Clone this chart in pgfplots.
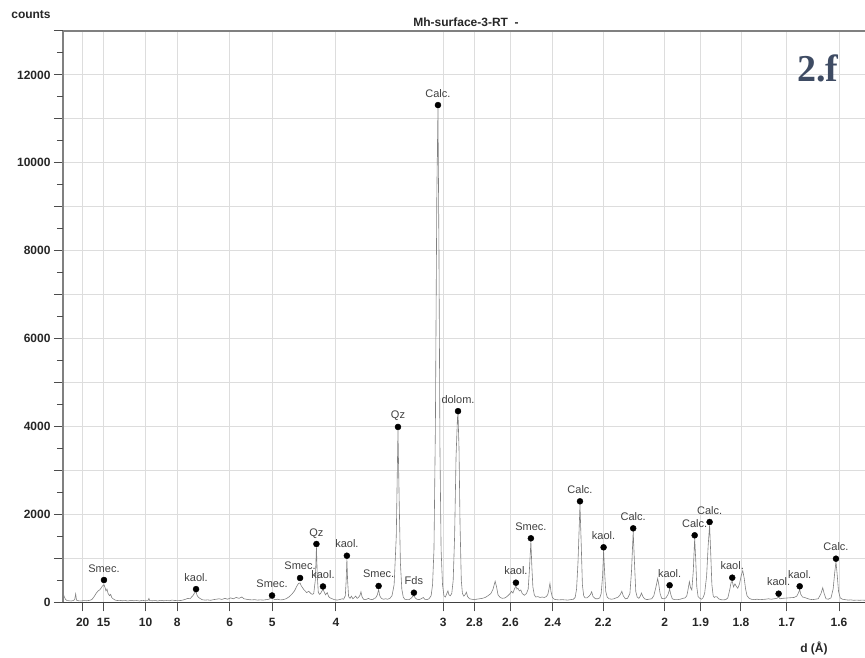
\documentclass[border=0pt]{standalone}
\usepackage{fontspec}
\setmainfont{Liberation Sans}
\newfontfamily\serifbold{Liberation Serif}
\usepackage{pgfplots}
\pgfplotsset{compat=1.18}
\definecolor{gridc}{HTML}{DDDDDD}
\definecolor{slate}{HTML}{3E4B63}
\begin{document}
\begin{tikzpicture}
\path[use as bounding box] (-63pt,-55.7pt) rectangle (802pt,602.3pt);
\begin{axis}[
  at={(0pt,0pt)}, anchor=south west,
  scale only axis, width=802pt, height=571.3pt,
  xmin=3.03, xmax=59.39, ymin=0, ymax=13000,
  axis x line*=bottom, axis y line*=left,
  x axis line style={black!75, line width=1.2pt, -},
  y axis line style={black!50, line width=2pt, -},
  tick align=outside,
  major tick length=9pt, minor tick length=9pt,
  every tick/.style={black!70, line width=1pt},
  xtick={4.4146,5.887,8.8356,11.051,14.752,17.725,22.206,29.755,31.938,34.468,37.443,40.991,45.307,47.836,50.674,53.888,57.564},
  xticklabels={20,15,10,8,6,5,4,3,2.8,2.6,2.4,2.2,2,1.9,1.8,1.7,1.6},
  ytick={0,2000,...,12000},
  minor ytick={1000,3000,...,13000},
  extra y ticks={500,1500,...,12500},
  extra y tick labels={},
  extra y tick style={major tick length=6pt, grid=none},
  scaled y ticks=false,
  /pgf/number format/1000 sep={},
  /pgf/number format/assume math mode=true,
  ticklabel style={font=\bfseries\fontsize{12}{14}\selectfont, black!85},
  xticklabel style={yshift=-3pt},
  grid=both,
  major grid style={gridc, line width=0.9pt},
  minor grid style={gridc, line width=0.9pt},
  clip=false,
]
\addplot[black!50, line width=0.6pt] coordinates {
(3.03,230) (3.08,160) (3.14,110) (3.22,60) (3.32,40) (3.45,35) (3.6,30) (3.75,40) (3.85,60) (3.92,190) (3.98,50) (4.1,35) (4.3,30) (4.5,40) (4.7,35) (4.9,45)
(5.05,60) (5.2,120) (5.35,200) (5.5,260) (5.6,280) (5.7,320) (5.8,370) (5.91,400) (5.98,340) (6.05,260) (6.12,300) (6.2,200) (6.3,150) (6.38,180) (6.45,110) (6.55,80) (6.7,50) (6.85,40)
(7.0,45) (7.2,35) (7.4,40) (7.6,30) (7.8,45) (8.0,35) (8.2,40) (8.4,30) (8.6,45) (8.8,35) (9.0,40) (9.07,90) (9.12,40) (9.3,35) (9.5,40) (9.7,30) (9.9,45)
(10.1,35) (10.3,40) (10.5,35) (10.7,50) (10.9,40) (11.1,45) (11.3,40) (11.5,55) (11.65,70) (11.8,90) (11.95,80) (12.1,130) (12.2,170) (12.3,230) (12.38,240) (12.45,160) (12.55,110) (12.65,90) (12.8,60)
(13.0,50) (13.2,55) (13.4,45) (13.6,60) (13.8,70) (14.0,80) (14.2,65) (14.4,90) (14.6,70) (14.8,100) (15.0,80) (15.2,110) (15.4,90) (15.6,120) (15.75,80) (15.9,70)
(16.1,60) (16.3,55) (16.5,60) (16.7,50) (16.9,55) (17.1,50) (17.3,60) (17.5,70) (17.65,100) (17.72,110) (17.8,80) (17.95,60) (18.1,70) (18.3,55) (18.5,60) (18.7,80) (18.9,120)
(19.1,180) (19.3,260) (19.45,360) (19.58,430) (19.69,440) (19.78,370) (19.87,330) (19.95,290) (20.05,260) (20.15,220) (20.3,250) (20.45,200) (20.55,180) (20.65,200) (20.76,500) (20.84,1250) (20.9,600) (20.97,230)
(21.05,180) (21.15,210) (21.23,260) (21.30,290) (21.38,240) (21.48,170) (21.6,220) (21.7,130) (21.8,100) (21.95,80) (22.1,60) (22.3,50) (22.45,60) (22.55,70) (22.65,80) (22.75,70) (22.87,150) (22.93,500) (22.98,980)
(23.03,500) (23.1,130) (23.2,90) (23.3,140) (23.4,80) (23.5,110) (23.6,140) (23.7,90) (23.8,110) (23.9,160) (23.97,240) (24.05,120) (24.15,70) (24.3,60) (24.5,90) (24.6,70) (24.8,60) (24.9,90)
(25.0,100) (25.12,170) (25.21,290) (25.29,150) (25.4,90) (25.55,70) (25.7,80) (25.85,70) (26.0,90) (26.15,150) (26.3,400) (26.45,1500) (26.57,3920) (26.65,2400) (26.74,900) (26.84,300) (26.94,120)
(27.05,70) (27.2,60) (27.35,60) (27.52,100) (27.62,140) (27.69,150) (27.78,100) (27.9,70) (28.05,60) (28.2,80) (28.35,110) (28.45,70) (28.6,60) (28.75,80) (28.9,150)
(29.0,400) (29.1,1200) (29.2,4000) (29.3,9300) (29.38,11240) (29.45,8000) (29.52,3500) (29.6,1200) (29.7,400) (29.8,150) (29.9,120)
(30.0,200) (30.08,260) (30.15,170) (30.25,150) (30.35,200) (30.45,500) (30.55,1500) (30.65,3300) (30.75,4200) (30.79,4280) (30.86,3500) (30.93,1800) (31.02,500) (31.1,200) (31.2,140) (31.3,180) (31.38,230) (31.46,130)
(31.6,80) (31.75,70) (31.9,60) (32.1,70) (32.3,80) (32.5,90) (32.7,110) (32.9,150) (33.1,200) (33.25,300) (33.4,480) (33.5,350) (33.6,170) (33.75,110) (33.9,90)
(34.1,100) (34.3,150) (34.45,200) (34.55,250) (34.65,210) (34.75,300) (34.86,370) (34.93,300) (35.0,320) (35.1,260) (35.2,280) (35.3,200) (35.45,160) (35.6,200) (35.72,300) (35.8,700) (35.91,1380) (35.98,800)
(36.05,350) (36.15,170) (36.25,120) (36.4,130) (36.55,110) (36.7,120) (36.85,110) (37.0,130) (37.1,180) (37.18,300) (37.25,430) (37.32,250) (37.42,110) (37.55,70) (37.7,60) (37.9,55)
(38.1,60) (38.3,55) (38.5,50) (38.7,60) (38.9,70) (39.02,110) (39.12,300) (39.22,900) (39.36,2220) (39.45,1300) (39.53,400) (39.62,150) (39.72,100) (39.85,100)
(40.0,140) (40.1,180) (40.18,240) (40.28,130) (40.45,80) (40.6,80) (40.75,100) (40.85,200) (40.95,600) (41.02,1180) (41.09,700) (41.17,250) (41.27,120) (41.4,80) (41.6,70) (41.75,80) (41.9,100)
(42.05,120) (42.2,180) (42.3,250) (42.4,150) (42.55,80) (42.7,90) (42.87,200) (42.98,700) (43.10,1610) (43.19,900) (43.28,250) (43.38,120) (43.5,90) (43.6,140) (43.68,210) (43.78,130) (43.9,80)
(44.05,60) (44.2,70) (44.4,80) (44.55,150) (44.7,350) (44.82,540) (44.9,400) (44.99,200) (45.1,90) (45.25,80) (45.4,100) (45.55,180) (45.66,300) (45.75,170) (45.85,80)
(46.0,60) (46.2,60) (46.4,70) (46.6,90) (46.75,100) (46.87,150) (46.96,300) (47.05,470) (47.13,330) (47.22,280) (47.32,700) (47.42,1450) (47.49,1000) (47.57,350) (47.66,130) (47.78,90) (47.9,70)
(48.0,100) (48.12,200) (48.26,600) (48.37,1300) (48.47,1750) (48.55,1100) (48.63,400) (48.72,150) (48.8,110) (48.9,130) (49.0,120) (49.1,80) (49.25,60) (49.4,55) (49.6,60) (49.75,100) (49.88,280)
(49.98,450) (50.06,480) (50.15,350) (50.25,420) (50.35,360) (50.45,320) (50.57,420) (50.7,620) (50.8,720) (50.9,550) (51.0,300) (51.1,150) (51.25,90) (51.4,70) (51.6,60) (51.8,70)
(52.0,60) (52.2,65) (52.4,70) (52.6,80) (52.8,70) (53.0,80) (53.2,90) (53.32,120) (53.42,80) (53.6,90) (53.8,95)
(54.0,100) (54.2,105) (54.4,110) (54.6,140) (54.72,220) (54.80,290) (54.88,180) (55.0,120) (55.15,110) (55.3,90) (55.5,70) (55.7,60) (55.9,70)
(56.1,80) (56.3,200) (56.42,330) (56.52,200) (56.65,80) (56.8,70) (57.0,100) (57.15,300) (57.27,700) (57.35,920) (57.43,650) (57.53,250) (57.65,100) (57.8,70)
(58.0,60) (58.2,50) (58.4,55) (58.6,45) (58.8,50) (59.0,45) (59.2,50) (59.39,45)
};
\addplot[only marks, mark=*, mark size=3pt, black,
  point meta=explicit symbolic, nodes near coords,
  every node near coord/.append style={anchor=base, yshift=8pt, inner sep=0pt,
    font=\fontsize{11}{13}\selectfont, text=black!75}]
coordinates {
(5.91,507) [Smec.]
(12.38,300) [kaol.]
(17.72,155) [Smec.]
(19.69,553) [Smec.]
(20.84,1326) [Qz]
(21.30,360) [kaol.]
(22.98,1060) [kaol.]
(25.21,371) [Smec.]
(26.57,3990) [Qz]
(27.69,218) [Fds]
(29.38,11314) [Calc.]
(30.79,4350) [dolom.]
(34.86,446) [kaol.]
(35.91,1456) [Smec.]
(39.36,2298) [Calc.]
(41.02,1251) [kaol.]
(43.10,1683) [Calc.]
(45.66,387) [kaol.]
(47.42,1524) [Calc.]
(48.47,1827) [Calc.]
(50.06,560) [kaol.]
(53.32,196) [kaol.]
(54.80,364) [kaol.]
(57.35,992) [Calc.]
};
\draw[black!50, line width=2pt] (rel axis cs:0,1) -- (rel axis cs:1,1);
\node[font=\bfseries\fontsize{12}{14}\selectfont, black!85] at (axis description cs:0.5025,1.0158) {Mh-surface-3-RT\ \ -};
\node[font=\bfseries\fontsize{12}{14}\selectfont, black!85] at (axis description cs:-0.0399,1.028) {counts};
\node[font=\bfseries\fontsize{12}{14}\selectfont, black!85] at (axis description cs:0.9364,-0.080) {d (Å)};
\node[font=\serifbold\bfseries\fontsize{38}{40}\selectfont, text=slate] at (axis description cs:0.9414,0.935) {2.f};
\end{axis}
\end{tikzpicture}
\end{document}
